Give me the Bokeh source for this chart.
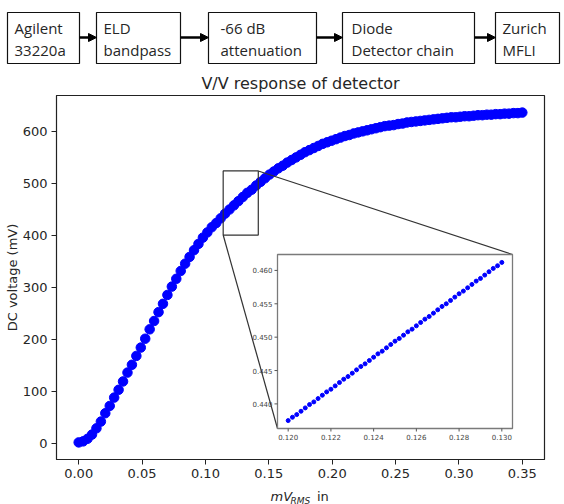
import numpy as np
from bokeh.plotting import figure
from bokeh.layouts import column
from bokeh.models import (Range1d, FixedTicker, PrintfTickFormatter, Arrow, NormalHead)
from bokeh.core.properties import value
from bokeh.embed import file_html
from bokeh.resources import INLINE

# ---------------- data ----------------
# signal chain blocks (two text lines each)
block_line1 = ["Agilent", "ELD", "-66 dB", "Diode", "Zurich"]
block_line2 = ["33220a", "bandpass", "attenuation", "Detector chain", "MFLI"]

# detector response: input amplitude (V rms) vs DC output (mV)
vin = np.round(np.arange(101) * 0.0035, 4)
vdc_mv = [3, 5, 10, 18, 30, 43, 59, 73, 89, 104,
          120, 137, 152, 169, 185, 202, 220, 236, 253, 269,
          286, 302, 317, 332, 346, 359, 372, 384, 396, 406,
          416, 424, 433, 442, 450, 458, 466, 474, 482, 488,
          496, 503, 510, 517, 523, 529, 534, 540, 545, 550,
          555, 560, 564, 568, 572, 576, 579, 582, 585, 588,
          591, 593, 596, 598, 600, 602, 604, 606, 608, 610,
          611, 612, 614, 615, 617, 618, 619, 620, 621, 622,
          623, 624, 625, 626, 627, 627, 628, 629, 629, 630,
          631, 631, 632, 632, 633, 633, 634, 634, 635, 635, 636]

# fine sweep shown in the inset (V)
zoom_vin = np.round(0.120 + np.arange(51) * 0.0002, 4)
zoom_vdc = [0.4375, 0.4380, 0.4384, 0.4389, 0.4394, 0.4399, 0.4403, 0.4408, 0.4413, 0.4418,
            0.4422, 0.4427, 0.4432, 0.4437, 0.4441, 0.4446, 0.4451, 0.4456, 0.4460, 0.4465,
            0.4470, 0.4475, 0.4479, 0.4484, 0.4489, 0.4494, 0.4498, 0.4503, 0.4508, 0.4512,
            0.4517, 0.4522, 0.4527, 0.4531, 0.4536, 0.4541, 0.4546, 0.4550, 0.4555, 0.4560,
            0.4565, 0.4569, 0.4574, 0.4579, 0.4584, 0.4588, 0.4593, 0.4598, 0.4603, 0.4607,
            0.4612]

x_ticks = [0.00, 0.05, 0.10, 0.15, 0.20, 0.25, 0.30, 0.35]
y_ticks = [0, 100, 200, 300, 400, 500, 600]
inset_xticks = [0.120, 0.122, 0.124, 0.126, 0.128, 0.130]
inset_yticks = [0.440, 0.445, 0.450, 0.455, 0.460]

# zoom region marked on the main curve
zoom_box_x = [0.114, 0.1417]
zoom_box_y = [401, 524]

FONT = "DejaVu Sans"
TXT = "#262626"
BLUE = "#0000ff"
W = 564

# ---------------- block diagram ----------------
DH = 68
d = figure(width=W, height=DH, x_range=Range1d(0, W), y_range=Range1d(DH, 0),
           output_backend="svg", toolbar_location=None, x_axis_type=None, y_axis_type=None,
           min_border=0, outline_line_color=None)
d.frame_align = False
d.grid.visible = False

box_left = [7, 96, 208, 342, 495]
box_right = [79, 180, 316, 474, 559]
text_left = [14, 103, 220, 351, 502]
d.quad(left=box_left, right=box_right, top=[12] * 5, bottom=[63] * 5,
       fill_color="white", line_color="#111111", line_width=1.2)
d.text(x=text_left, y=[27] * 5, text=block_line1, text_font=value("Open Sans"),
       text_font_size="15px", text_color=TXT, text_baseline="middle")
d.text(x=text_left, y=[49] * 5, text=block_line2, text_font=value("Open Sans"),
       text_font_size="15px", text_color=TXT, text_baseline="middle")
for i in range(4):
    d.add_layout(Arrow(x_start=box_right[i], y_start=37, x_end=box_left[i + 1], y_end=37,
                       line_width=2.6, line_color="black",
                       end=NormalHead(size=8, fill_color="black", line_color="black")))

# ---------------- main response plot ----------------
XH = 20                    # strip below for the x axis title
XR = (-0.0175, 0.3675)
YR = (-29.8, 668.8)
FW, FH = 488, 364          # frame size in px
p = figure(width=W, height=504 - DH - XH, x_range=Range1d(*XR), y_range=Range1d(*YR),
           output_backend="svg", toolbar_location=None,
           min_border_left=56, min_border_right=20, min_border_top=27, min_border_bottom=25,
           outline_line_color="#222222", outline_line_width=1.2)
p.frame_align = False
p.grid.visible = False
p.title.text = "V/V response of detector"
p.title.align = "center"
p.title.text_font = FONT
p.title.text_font_size = "16px"
p.title.text_font_style = "normal"
p.title.text_color = TXT
p.title.standoff = 6

for ax in (p.xaxis, p.yaxis):
    ax.major_tick_out = 5
    ax.major_tick_in = 0
    ax.minor_tick_out = 0
    ax.minor_tick_in = 0
    ax.axis_line_color = "#222222"
    ax.major_tick_line_color = "#222222"
    ax.major_label_text_font = FONT
    ax.major_label_text_font_size = "13px"
    ax.major_label_text_color = TXT
    ax.major_label_standoff = 4
p.xaxis.ticker = FixedTicker(ticks=x_ticks)
p.xaxis.formatter = PrintfTickFormatter(format="%.2f")
p.yaxis.ticker = FixedTicker(ticks=y_ticks)
p.yaxis.axis_label = "DC voltage (mV)"
p.yaxis.axis_label_text_font = FONT
p.yaxis.axis_label_text_font_size = "13px"
p.yaxis.axis_label_text_font_style = "normal"
p.yaxis.axis_label_text_color = TXT
p.yaxis.axis_label_standoff = 0

p.scatter(vin, vdc_mv, size=9.5, fill_color=BLUE, line_color=BLUE, line_width=1)

# zoom rectangle on the main curve
p.quad(left=[zoom_box_x[0]], right=[zoom_box_x[1]], bottom=[zoom_box_y[0]], top=[zoom_box_y[1]],
       fill_alpha=0, line_color="#333333", line_width=1.2)

# inset placement inside the frame (px from frame left / top)
IL, IR, IT, IB = 221, 456, 159, 333
ix_lo, ix_hi = 0.1195, 0.1305
iy_lo, iy_hi = 0.436315, 0.462385
sx = (IR - IL) / (ix_hi - ix_lo)
sy = (IB - IT) / (iy_hi - iy_lo)
p.extra_x_ranges = {"ix": Range1d(ix_lo - IL / sx, ix_hi + (FW - IR) / sx)}
p.extra_y_ranges = {"iy": Range1d(iy_lo - (FH - IB) / sy, iy_hi + IT / sy)}

# inset corners in main data coordinates, for the connector lines
mx = lambda px: XR[0] + px / FW * (XR[1] - XR[0])
my = lambda py: YR[1] - py / FH * (YR[1] - YR[0])
p.segment(x0=[zoom_box_x[1], zoom_box_x[0]], y0=[zoom_box_y[1], zoom_box_y[0]],
          x1=[mx(IR), mx(IL)], y1=[my(IT), my(IB)], line_color="#333333", line_width=1.2)

p.quad(left=[ix_lo], right=[ix_hi], bottom=[iy_lo], top=[iy_hi], fill_alpha=0,
       line_color="#7a7a7a", line_width=1.3, x_range_name="ix", y_range_name="iy")
p.scatter(zoom_vin, zoom_vdc, size=4, fill_color=BLUE, line_color=BLUE, line_width=1,
          x_range_name="ix", y_range_name="iy")
p.ray(x=[ix_lo] * len(inset_yticks), y=inset_yticks, length=3, length_units="screen",
      angle=np.pi, line_color="#555555", line_width=1, x_range_name="ix", y_range_name="iy")
p.ray(x=inset_xticks, y=[iy_lo] * len(inset_xticks), length=3, length_units="screen",
      angle=-np.pi / 2, line_color="#555555", line_width=1, x_range_name="ix", y_range_name="iy")
p.text(x=[ix_lo] * len(inset_yticks), y=inset_yticks, text=["%.3f" % v for v in inset_yticks],
       x_offset=-5, text_align="right", text_baseline="middle", text_font=value(FONT),
       text_font_size="7px", text_color="#444444", x_range_name="ix", y_range_name="iy")
p.text(x=inset_xticks, y=[iy_lo] * len(inset_xticks), text=["%.3f" % v for v in inset_xticks],
       y_offset=5, text_align="center", text_baseline="top", text_font=value(FONT),
       text_font_size="7px", text_color="#444444", x_range_name="ix", y_range_name="iy")

# ---------------- x axis title strip: italic mV with RMS subscript, then "in" ----------------
xl = figure(width=W, height=XH, x_range=Range1d(0, W), y_range=Range1d(XH, 0),
            output_backend="svg", toolbar_location=None, x_axis_type=None, y_axis_type=None,
            min_border=0, outline_line_color=None)
xl.frame_align = False
xl.grid.visible = False
xl.text(x=[270], y=[12], text=["mV"], text_font=value(FONT), text_font_size="13px",
        text_font_style="italic", text_color=TXT, text_baseline="alphabetic")
xl.text(x=[290], y=[16], text=["RMS"], text_font=value(FONT), text_font_size="9px",
        text_font_style="italic", text_color=TXT, text_baseline="alphabetic")
xl.text(x=[316.5], y=[12], text=["in"], text_font=value(FONT), text_font_size="13px",
        text_color=TXT, text_baseline="alphabetic")

layout = column(d, p, xl, spacing=0)
open("out.html", "w").write(file_html(layout, INLINE))
